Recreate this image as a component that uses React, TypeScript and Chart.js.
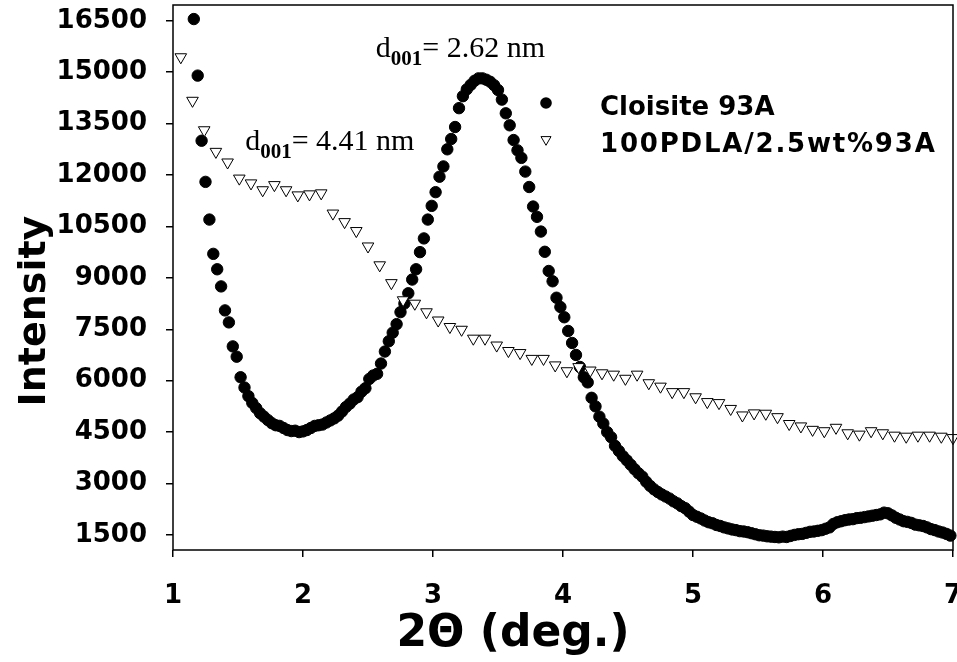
import React, { useEffect, useRef } from 'react';
import { Chart, registerables } from 'chart.js';

Chart.register(...registerables);

// ---- data ----
const X_TICKS = [1, 2, 3, 4, 5, 6, 7];
const Y_TICKS = [1500, 3000, 4500, 6000, 7500, 9000, 10500, 12000, 13500, 15000, 16500];

const SERIES_LABELS = ['Cloisite 93A', '100PDLA/2.5wt%93A'];
const X_TITLE = '2\u0398 (deg.)';
const Y_TITLE = 'Intensity';

// Cloisite 93A: 2θ grid start and step, intensity values
const CLOISITE_X_START = 1.16;
const CLOISITE_X_STEP = 0.03;
const CLOISITE_Y = [
  16550, 14900, 13000, 11800, 10700, 9700, 9250, 8750, 8050, 7700,
  7000, 6700, 6100, 5800, 5550, 5350, 5200, 5050, 4950, 4850,
  4760, 4700, 4680, 4620, 4560, 4530, 4540, 4500, 4520, 4560,
  4620, 4680, 4700, 4720, 4780, 4840, 4900, 4980, 5100, 5230,
  5330, 5450, 5520, 5680, 5780, 6050, 6150, 6200, 6500, 6850,
  7150, 7400, 7650, 8000, 8250, 8550, 8950, 9250, 9750, 10150,
  10700, 11100, 11500, 11950, 12250, 12750, 13050, 13400, 13950, 14300,
  14500, 14630, 14750, 14820, 14820, 14780, 14720, 14620, 14480, 14200,
  13800, 13450, 13020, 12720, 12500, 12100, 11650, 11080, 10780, 10350,
  9760, 9200, 8900, 8420, 8150, 7850, 7450, 7100, 6750, 6400,
  6100, 5950, 5500, 5250, 4950, 4750, 4500, 4350, 4100, 3950,
  3800, 3680, 3550, 3420, 3300, 3200, 3050, 2930, 2830, 2750,
  2680, 2620, 2560, 2480, 2420, 2340, 2280, 2180, 2080, 2030,
  1980, 1920, 1870, 1840, 1790, 1760, 1720, 1690, 1660, 1640,
  1610, 1600, 1580, 1550, 1520, 1490, 1480, 1460, 1450, 1440,
  1430, 1450, 1440, 1470, 1500, 1520, 1530, 1560, 1590, 1600,
  1620, 1640, 1680, 1720, 1820, 1870, 1900, 1930, 1950, 1960,
  1990, 2000, 2020, 2040, 2060, 2080, 2100, 2150, 2130, 2070,
  2000, 1950, 1900, 1880, 1850, 1800, 1780, 1760, 1720, 1670,
  1640, 1600, 1570, 1530, 1480,
];

// 100PDLA/2.5wt%93A
const PDLA_X_START = 1.06;
const PDLA_X_STEP = 0.09;
const PDLA_Y = [
  15440, 14170, 13310, 12680, 12370, 11900, 11760, 11560, 11710, 11560,
  11410, 11440, 11470, 10880, 10630, 10370, 9920, 9370, 8850, 8350,
  8250, 8000, 7760, 7570, 7490, 7230, 7230, 7030, 6870, 6810,
  6640, 6640, 6450, 6280, 6400, 6300, 6220, 6180, 6060, 6180,
  5930, 5830, 5670, 5670, 5520, 5380, 5350, 5180, 4990, 5050,
  5040, 4940, 4740, 4670, 4570, 4530, 4630, 4470, 4430, 4530,
  4470, 4400, 4370, 4400, 4400, 4370, 4330,
];

// peak annotations (d-spacing)
const ANNOT_VALUES = ['2.62 nm', '4.41 nm'];
const ANNOT_X = [2.56, 1.555];
const ANNOT_Y = [15455, 12729];

const TICK_FONT = { family: '"DejaVu Sans", Verdana, sans-serif', weight: 'bold' as const, size: 26 };

const overlay = {
  id: 'overlay',
  afterDatasetsDraw(chart: any) {
    const { ctx, chartArea: a, scales } = chart;
    const xs = scales.x;
    const ys = scales.y;
    ctx.save();
    // frame
    ctx.strokeStyle = '#000';
    ctx.lineWidth = 1.5;
    ctx.strokeRect(a.left, a.top, a.right - a.left, a.bottom - a.top);

    // annotations
    ctx.fillStyle = '#000';
    ctx.textAlign = 'left';
    ctx.textBaseline = 'alphabetic';
    for (let i = 0; i < ANNOT_VALUES.length; i++) {
      const px = xs.getPixelForValue(ANNOT_X[i]);
      const py = ys.getPixelForValue(ANNOT_Y[i]);
      ctx.font = '30px "Liberation Serif", serif';
      ctx.fillText('d', px, py);
      let w = ctx.measureText('d').width;
      ctx.font = 'bold 21px "Liberation Serif", serif';
      ctx.fillText('001', px + w, py + 8);
      w += ctx.measureText('001').width;
      ctx.font = '30px "Liberation Serif", serif';
      ctx.fillText('= ' + ANNOT_VALUES[i], px + w, py);
    }

    // legend
    const lx = 546;
    const rows = [103, 141];
    ctx.fillStyle = '#000';
    ctx.beginPath();
    ctx.arc(lx, rows[0], 5.8, 0, Math.PI * 2);
    ctx.fill();
    ctx.beginPath();
    const r = 5.8;
    const ty = rows[1] - 1.5;
    ctx.moveTo(lx, ty + r);
    ctx.lineTo(lx - r * 0.866, ty - r * 0.5);
    ctx.lineTo(lx + r * 0.866, ty - r * 0.5);
    ctx.closePath();
    ctx.fillStyle = '#fff';
    ctx.fill();
    ctx.lineWidth = 1;
    ctx.strokeStyle = '#000';
    ctx.stroke();
    ctx.fillStyle = '#000';
    ctx.font = 'bold 26px "DejaVu Sans", sans-serif';
    ctx.fillText(SERIES_LABELS[0], 600, 115);
    (ctx as any).letterSpacing = '1.8px';
    ctx.fillText(SERIES_LABELS[1], 600, 152);
    (ctx as any).letterSpacing = '0px';

    // axis titles
    ctx.font = 'bold 44px "DejaVu Sans", sans-serif';
    ctx.textAlign = 'center';
    ctx.fillText(X_TITLE, 513, 646);
    ctx.save();
    ctx.translate(45, 311);
    ctx.rotate(-Math.PI / 2);
    ctx.font = 'bold 38px "DejaVu Sans", sans-serif';
    ctx.fillText(Y_TITLE, 0, 0);
    ctx.restore();
    ctx.restore();
  },
};

export default function App() {
  const ref = useRef<HTMLCanvasElement>(null);
  useEffect(() => {
    const canvas = ref.current!;
    const cloisite = CLOISITE_Y.map((v, i) => ({ x: +(CLOISITE_X_START + i * CLOISITE_X_STEP).toFixed(2), y: v }));
    const pdla = PDLA_Y.map((v, i) => ({ x: +(PDLA_X_START + i * PDLA_X_STEP).toFixed(2), y: v }));
    const chart = new Chart(canvas, {
      type: 'scatter',
      data: {
        datasets: [
          {
            label: SERIES_LABELS[1],
            data: pdla,
            order: 0,
            pointStyle: 'triangle',
            pointRotation: 180,
            pointRadius: 6.7,
            pointBackgroundColor: '#fff',
            pointBorderColor: '#000',
            pointBorderWidth: 1,
            showLine: false,
            clip: false,
          } as any,
          {
            label: SERIES_LABELS[0],
            data: cloisite,
            order: 1,
            pointStyle: 'circle',
            pointRadius: 5.7,
            pointBackgroundColor: '#000',
            pointBorderColor: '#000',
            pointBorderWidth: 1,
            showLine: false,
            clip: false,
          } as any,
        ],
      },
      options: {
        responsive: false,
        animation: false,
        devicePixelRatio: 1,
        events: [],
        layout: { autoPadding: false, padding: { top: 5, right: 4, left: 0, bottom: 0 } },
        plugins: { legend: { display: false }, tooltip: { enabled: false } },
        scales: {
          x: {
            type: 'linear',
            min: 1,
            max: 7,
            afterFit: (s: any) => { s.height = 112; s.paddingLeft = 0; s.paddingRight = 0; },
            afterBuildTicks: (s: any) => { s.ticks = X_TICKS.map((v) => ({ value: v })); },
            grid: { display: true, drawOnChartArea: false, drawTicks: true, tickLength: 7, color: '#000', lineWidth: 1.5 },
            border: { display: false },
            ticks: { color: '#000', font: TICK_FONT, padding: 24, maxRotation: 0, autoSkip: false },
          },
          y: {
            type: 'linear',
            min: 1060,
            max: 16960,
            afterFit: (s: any) => { s.width = 173; s.paddingTop = 0; s.paddingBottom = 0; },
            afterBuildTicks: (s: any) => { s.ticks = Y_TICKS.map((v) => ({ value: v })); },
            grid: { display: true, drawOnChartArea: false, drawTicks: true, tickLength: 7, color: '#000', lineWidth: 1.5 },
            border: { display: false },
            ticks: { color: '#000', font: TICK_FONT, padding: 19, autoSkip: false, callback: (v: any) => String(v) },
          },
        },
      } as any,
      plugins: [overlay],
    });
    return () => chart.destroy();
  }, []);
  return (
    <div style={{ position: 'absolute', left: 0, top: 0, width: 957, height: 662, background: '#fff' }}>
      <canvas ref={ref} width={957} height={662} style={{ width: 957, height: 662, display: 'block' }} />
    </div>
  );
}
